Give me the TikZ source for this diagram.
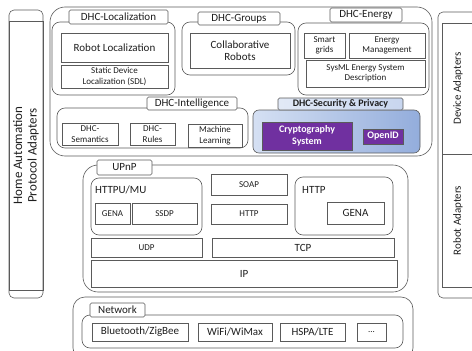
\documentclass[tikz,border=0pt]{standalone}
\usepackage{fontspec}
\setmainfont{Carlito}
\usepackage{tikz}
\tikzset{>=latex}
\definecolor{edge}{HTML}{5A5A5A}
\definecolor{ink}{HTML}{1E1E1E}
\definecolor{purp}{HTML}{7030A0}
\definecolor{secl}{HTML}{D5E0F3}
\definecolor{secr}{HTML}{93ADDC}
\tikzset{
  blk/.style={draw=edge,line width=0.6pt,inner sep=0pt,align=center,text=ink},
  grp/.style={draw=edge,line width=0.6pt,rounded corners=8pt,inner sep=0pt},
  tag/.style={blk,fill=white,rounded corners=1.5pt},
  big/.style={font=\fontsize{11}{12}\selectfont},
  sml/.style={font=\fontsize{9}{10.5}\selectfont},
  sec/.style={blk,fill=purp,text=white,font=\fontsize{10}{11.5}\selectfont\bfseries}
}

\begin{document}
\begin{tikzpicture}[x=1pt,y=-1pt]
\useasboundingbox (0,0) rectangle (472,351);
\clip (0,0) rectangle (472,351);

\node[grp,rounded corners=5pt,minimum width=34,minimum height=288] (haframe) at (26,154) {};
\node[blk,rotate=90,minimum width=269,minimum height=34,font=\fontsize{13}{14.5}\selectfont] (haprot) at (26,155.5) {Home Automation\\Protocol Adapters};

\node[grp,rounded corners=5pt,minimum width=42,minimum height=286] (adframe) at (459,155) {};
\node[blk,rotate=90,minimum width=131,minimum height=32,big] (devad) at (458,88.5) {Device Adapters};
\node[blk,rotate=90,minimum width=133,minimum height=32,big] (robad) at (458,220.5) {Robot Adapters};

\node[grp,rounded corners=15pt,minimum width=382,minimum height=149] (dhc) at (241,81.5) {};

\node[grp,minimum width=123,minimum height=73] (locgrp) at (113.5,58.5) {};
\node[tag,big,minimum width=99,minimum height=14] (loctag) at (118.5,17) {DHC-Localization};
\node[blk,big,minimum width=107,minimum height=29] (robloc) at (114.5,47.5) {Robot Localization};
\node[blk,sml,minimum width=107,minimum height=23] (sdl) at (114.5,76.5) {Static Device\\Localization (SDL)};

\node[grp,minimum width=113,minimum height=53] (grpgrp) at (238.5,48.5) {};
\node[tag,big,minimum width=82,minimum height=13] (grptag) at (239,18.5) {DHC-Groups};
\node[blk,big,minimum width=100,minimum height=35] (collab) at (240,50.5) {Collaborative\\Robots};

\node[grp,minimum width=131,minimum height=72] (engrp) at (363.5,59) {};
\node[tag,big,minimum width=72,minimum height=14] (entag) at (366,15) {DHC-Energy};
\node[blk,sml,minimum width=41,minimum height=25] (smart) at (324.5,45.5) {Smart\\grids};
\node[blk,sml,minimum width=76,minimum height=25] (enman) at (387,45.5) {Energy\\Management};
\node[blk,sml,minimum width=119,minimum height=27] (sysml) at (365.5,73.5) {SysML Energy System\\Description};

\node[grp,minimum width=191,minimum height=40] (intgrp) at (152.5,128) {};
\node[tag,big,minimum width=90,minimum height=13] (inttag) at (192,103.5) {DHC-Intelligence};
\node[blk,sml,minimum width=56,minimum height=22] (seman) at (90,134) {DHC-\\Semantics};
\node[blk,sml,minimum width=45,minimum height=22] (rules) at (152.5,134) {DHC-\\Rules};
\node[blk,sml,minimum width=54,minimum height=23] (mlearn) at (215,135.5) {Machine\\Learning};

\node[grp,rounded corners=6pt,left color=secl,right color=secr,minimum width=167,minimum height=43] (secgrp) at (336.5,131.5) {};
\node[tag,left color=secl!70!white,right color=secl!80!secr,font=\fontsize{10}{11.5}\selectfont\bfseries,minimum width=125,minimum height=12] (sectag) at (340.5,104) {DHC-Security \& Privacy};
\node[sec,minimum width=90,minimum height=28] (crypt) at (307,136) {Cryptography\\System};
\node[sec,minimum width=40,minimum height=15] (openid) at (383,136.5) {OpenID};

\node[grp,rounded corners=15pt,minimum width=325,minimum height=127] (upnp) at (245.5,228.5) {};
\node[tag,big,minimum width=55,minimum height=15] (upnptag) at (124.5,167.5) {UPnP};
\node[grp,minimum width=111,minimum height=57] (httpu) at (146.5,206.5) {};
\node[anchor=west,big,text=ink,inner sep=0pt] (httputxt) at (95,190) {HTTPU/MU};
\node[blk,sml,minimum width=35,minimum height=21] (gena) at (112.5,213.5) {GENA};
\node[blk,sml,minimum width=65,minimum height=21] (ssdp) at (164.5,213.5) {SSDP};
\node[blk,sml,minimum width=76,minimum height=21] (soap) at (249,184.5) {SOAP};
\node[blk,sml,minimum width=76,minimum height=20] (httpb) at (249,214) {HTTP};
\node[grp,minimum width=98,minimum height=58] (httpgrp) at (344,206) {};
\node[anchor=west,big,text=ink,inner sep=0pt] (httptxt) at (302,190) {HTTP};
\node[blk,big,minimum width=57,minimum height=22] (genab) at (355.5,213) {GENA};
\node[blk,sml,minimum width=111,minimum height=19] (udp) at (146.5,247.5) {UDP};
\node[blk,big,minimum width=182,minimum height=19] (tcp) at (303,247.5) {TCP};
\node[blk,big,minimum width=306,minimum height=27] (ip) at (244,273.5) {IP};

\node[grp,rounded corners=12pt,minimum width=340,minimum height=63] (netout) at (243,328.5) {};
\node[grp,minimum width=321,minimum height=33] (netgrp) at (242.5,331.5) {};
\node[tag,big,minimum width=55,minimum height=14] (nettag) at (117.5,310) {Network};
\node[blk,big,minimum width=96,minimum height=18] (bt) at (140,332) {Bluetooth/ZigBee};
\node[blk,big,minimum width=74,minimum height=18] (wifi) at (235,332) {WiFi/WiMax};
\node[blk,big,minimum width=65,minimum height=18] (hspa) at (312.5,332) {HSPA/LTE};
\node[blk,sml,minimum width=29,minimum height=18] (more) at (371.5,332) {...};
\end{tikzpicture}
\end{document}
